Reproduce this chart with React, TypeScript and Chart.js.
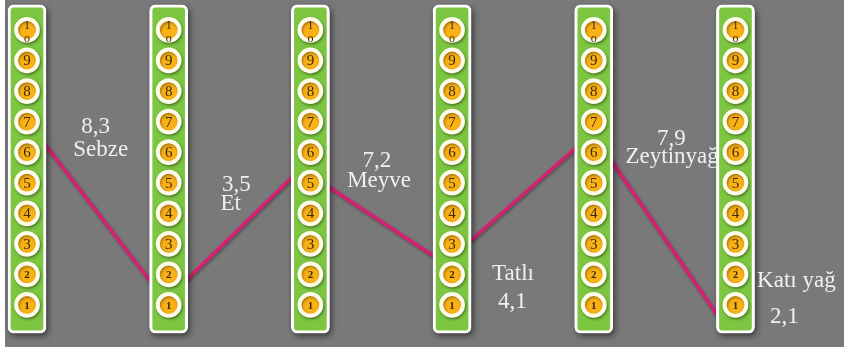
import React, { useEffect, useRef } from "react";
import { Chart, registerables } from "chart.js";

Chart.register(...registerables);

// ---- data ----
const CATEGORIES = ["Sebze", "Et", "Meyve", "Tatlı", "Zeytinyağ", "Katı yağ"];
const VALUE_LABELS = ["8,3", "3,5", "7,2", "4,1", "7,9", "2,1"];
const LEVELS = [1, 2, 3, 4, 5, 6, 7, 8, 9, 10];
// pink connector: level where each segment leaves column i and reaches column i+1
const SEGMENT_START = [6.3, 1.79, 4.89, 3.06, 5.74];
const SEGMENT_END = [1.72, 5.22, 2.57, 6.17, 0.61];

// ---- label layout (x in column units, y on the 1–10 level scale) ----
const VALUE_LABEL_X = [0.485, 1.477, 2.47, 3.425, 4.547, 5.345];
const VALUE_LABEL_Y = [6.82, 4.93, 5.71, 1.1, 6.43, 0.61];
const NAME_LABEL_X = [0.52, 1.438, 2.485, 3.43, 4.553, 5.43];
const NAME_LABEL_Y = [6.07, 4.3, 5.06, 2.01, 5.84, 1.79];

const BAR_TOP = 10.82;
const BAR_BOTTOM = 0.08;
const EDGE = 0.12;

const decorPlugin = {
  id: "decor",
  beforeDraw(chart: any) {
    const ctx = chart.ctx;
    ctx.save();
    ctx.fillStyle = "#ffffff";
    ctx.fillRect(0, 0, chart.width, chart.height);
    ctx.fillStyle = "#797979";
    ctx.fillRect(5, 0, chart.width - 5, 347);
    ctx.restore();
  },
  beforeDatasetDraw(chart: any, args: any) {
    const ctx = chart.ctx;
    const ds = chart.data.datasets[args.index];
    if (ds.label === "bars") {
      ctx.save();
      ctx.shadowColor = "rgba(0,0,0,0.55)";
      ctx.shadowBlur = 6;
      ctx.shadowOffsetX = 2;
      ctx.shadowOffsetY = 3;
      ctx.fillStyle = "#ffffff";
      args.meta.data.forEach((el: any) => {
        const p = el.getProps(["x", "y", "base", "width"], true);
        const top = Math.min(p.y, p.base);
        const h = Math.abs(p.base - p.y);
        ctx.beginPath();
        ctx.roundRect(p.x - p.width / 2, top, p.width, h, 6);
        ctx.fill();
      });
      ctx.restore();
    }
    if (ds.label === "levels" || ds.label === "line") {
      ctx.save();
      ctx.shadowColor = "rgba(0,0,0,0.35)";
      ctx.shadowBlur = 3;
      ctx.shadowOffsetX = 1;
      ctx.shadowOffsetY = 1.5;
    }
  },
  afterDatasetDraw(chart: any, args: any) {
    const ds = chart.data.datasets[args.index];
    if (ds.label === "levels" || ds.label === "line") chart.ctx.restore();
  },
  afterDatasetsDraw(chart: any) {
    const ctx = chart.ctx;
    const xs = chart.scales.x;
    const ys = chart.scales.y;
    ctx.save();
    // numbers inside the circles
    const meta = chart.getDatasetMeta(2);
    const pts = chart.data.datasets[2].data;
    ctx.fillStyle = "#3a2a0c";
    ctx.textAlign = "center";
    ctx.textBaseline = "middle";
    meta.data.forEach((el: any, i: number) => {
      const lvl = pts[i].y;
      const { x, y } = el;
      if (lvl === 10) {
        ctx.font = "12px 'Liberation Serif', serif";
        ctx.fillText("1", x, y - 4);
        ctx.fillText("o", x, y + 9);
      } else if (lvl <= 2) {
        ctx.font = "bold 11px 'Liberation Serif', serif";
        ctx.fillText(String(lvl), x, y + 1);
      } else {
        ctx.font = "15px 'Liberation Serif', serif";
        ctx.fillText(String(lvl), x, y + 1);
      }
    });
    // category labels
    ctx.fillStyle = "#f0f0f0";
    ctx.font = "23px 'Liberation Serif', serif";
    CATEGORIES.forEach((name, i) => {
      ctx.fillText(VALUE_LABELS[i], xs.getPixelForValue(VALUE_LABEL_X[i]), ys.getPixelForValue(VALUE_LABEL_Y[i]));
      ctx.fillText(name, xs.getPixelForValue(NAME_LABEL_X[i]), ys.getPixelForValue(NAME_LABEL_Y[i]));
    });
    ctx.restore();
  },
};

export default function App() {
  const ref = useRef<HTMLCanvasElement | null>(null);
  useEffect(() => {
    document.body.style.margin = "0";
    const lineData: any[] = [];
    SEGMENT_START.forEach((s, i) => {
      lineData.push({ x: i + EDGE, y: s });
      lineData.push({ x: i + 1 - EDGE, y: SEGMENT_END[i] });
      lineData.push({ x: i + 1, y: null });
    });
    const barData = CATEGORIES.map((_, i) => ({ x: i, y: [BAR_BOTTOM, BAR_TOP] }));
    const levelData: any[] = [];
    CATEGORIES.forEach((_, i) => LEVELS.forEach((l) => levelData.push({ x: i, y: l })));

    const chart = new Chart(ref.current as HTMLCanvasElement, {
      type: "bar",
      data: {
        datasets: [
          {
            type: "line",
            label: "line",
            data: lineData,
            borderColor: "#d81f72",
            borderWidth: 3.5,
            pointRadius: 0,
            spanGaps: false,
            fill: false,
            order: 3,
          } as any,
          {
            type: "bar",
            label: "bars",
            data: barData,
            backgroundColor: "#7cc641",
            borderColor: "#ffffff",
            borderWidth: 3,
            borderRadius: 6,
            borderSkipped: false,
            barThickness: 38,
            order: 2,
          } as any,
          {
            type: "scatter",
            label: "levels",
            data: levelData,
            pointRadius: 10.9,
            pointBorderWidth: 4,
            pointBackgroundColor: "#f9b116",
            pointBorderColor: "#fdfbea",
            order: 1,
          } as any,
        ],
      },
      options: {
        responsive: false,
        animation: false,
        devicePixelRatio: 1,
        events: [],
        layout: { padding: 0, autoPadding: false },
        scales: {
          x: { type: "linear", min: -0.1905, max: 5.766, offset: false, display: false },
          y: { type: "linear", min: -0.54, max: 10.98, display: false },
        },
        plugins: { legend: { display: false }, tooltip: { enabled: false } },
      },
      plugins: [decorPlugin],
    });
    return () => chart.destroy();
  }, []);
  return <canvas ref={ref} width={844} height={352} style={{ display: "block" }} />;
}
